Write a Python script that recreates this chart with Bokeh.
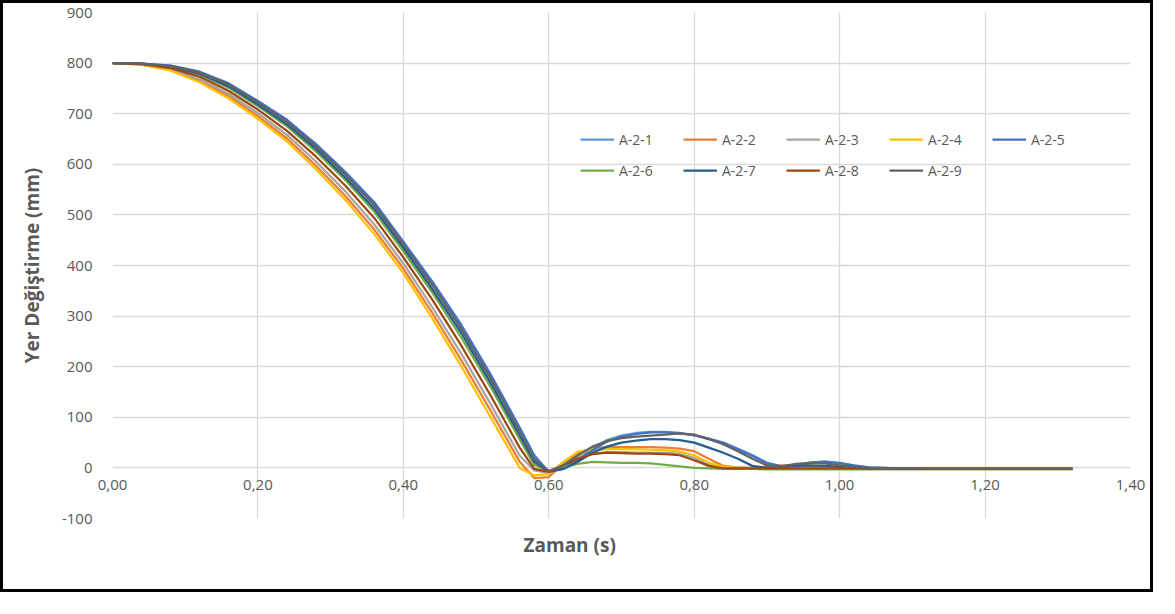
from bokeh.plotting import figure
from bokeh.models import Range1d, LinearAxis, FixedTicker, Legend, LegendItem, Title
from bokeh.embed import file_html
from bokeh.resources import INLINE

# time (s)
t = [0.00, 0.04, 0.08, 0.12, 0.16, 0.20, 0.24, 0.28, 0.32, 0.36, 0.40, 0.44, 0.48, 0.52, 0.56,
     0.58, 0.60, 0.62, 0.64, 0.66, 0.68, 0.70, 0.72, 0.74, 0.76, 0.78, 0.80, 0.82, 0.84, 0.86,
     0.88, 0.90, 0.92, 0.94, 0.96, 0.98, 1.00, 1.02, 1.04, 1.08, 1.12, 1.16, 1.20, 1.24, 1.28, 1.32]

a21 = [800, 799, 795, 782, 758, 723, 686, 638, 582, 522, 444, 364, 278, 181, 76,
       20, -8, 0, 18, 38, 55, 64, 69, 71, 71, 69, 64, 57, 48, 36,
       23, 9, 3, 6, 11, 13, 9, 4, 1, -1, -2, -2, -2, -2, -2, -2]
a22 = [800, 797, 787, 765, 735, 695, 651, 597, 538, 471, 394, 306, 212, 113, 12,
       -20, -18, 8, 28, 38, 41, 41, 41, 41, 40, 38, 33, 18, 4, 1,
       0, 2, 5, 5, 2, 0, -1, -1, -1, -1, -1, -1, -1, -1, -1, -1]
a23 = [800, 798, 788, 768, 739, 701, 658, 605, 547, 481, 404, 317, 225, 126, 24,
       -5, -10, 8, 22, 28, 31, 31, 30, 30, 30, 28, 20, 6, 1, 0,
       0, 0, 0, 0, 0, 0, 0, -1, -1, -1, -1, -1, -1, -1, -1, -1]
a24 = [800, 797, 785, 762, 730, 690, 645, 590, 530, 462, 385, 295, 200, 100, 0,
       -15, -12, 12, 32, 36, 37, 37, 37, 36, 35, 32, 25, 10, 2, 0,
       -1, -1, -1, -1, -1, -1, -1, -1, -1, -1, -1, -1, -1, -1, -1, -1]
a25 = [800, 799, 795, 783, 760, 725, 688, 640, 585, 525, 447, 368, 282, 185, 80,
       25, -8, -2, 15, 35, 52, 62, 67, 70, 70, 68, 65, 58, 50, 38,
       25, 10, 3, 5, 10, 12, 10, 5, 1, -1, -2, -2, -2, -2, -2, -2]
a26 = [800, 798, 792, 777, 751, 715, 675, 625, 569, 506, 428, 346, 257, 160, 56,
       6, -6, 2, 8, 12, 11, 10, 10, 9, 6, 3, 0, -1, -2, -2,
       -2, -3, -3, -3, -3, -3, -3, -3, -3, -3, -3, -3, -3, -3, -3, -3]
a27 = [800, 799, 793, 779, 754, 718, 679, 630, 574, 512, 435, 353, 266, 168, 64,
       12, -7, -2, 12, 30, 42, 50, 54, 57, 57, 55, 50, 40, 30, 18,
       4, 0, 2, 4, 5, 4, 2, 0, -1, -1, -2, -2, -2, -2, -2, -2]
a28 = [800, 798, 790, 773, 745, 708, 666, 615, 558, 494, 416, 332, 241, 143, 40,
       -2, -8, 5, 18, 27, 30, 29, 28, 28, 27, 25, 15, 4, -1, -1,
       -1, -1, -1, -1, -1, -1, -1, -1, -1, -1, -1, -1, -1, -1, -1, -1]
a29 = [800, 799, 794, 781, 757, 722, 684, 635, 580, 519, 441, 361, 274, 177, 72,
       16, -6, 5, 25, 42, 53, 59, 62, 64, 66, 68, 66, 57, 47, 33,
       18, 5, 3, 8, 10, 9, 5, 2, 0, -1, -2, -2, -2, -2, -2, -2]

names = ["A-2-1", "A-2-2", "A-2-3", "A-2-4", "A-2-5", "A-2-6", "A-2-7", "A-2-8", "A-2-9"]
values = [a21, a22, a23, a24, a25, a26, a27, a28, a29]
colors = ["#5B9BD5", "#ED7D31", "#A5A5A5", "#FFC000", "#4472C4",
          "#70AD47", "#255E91", "#9E480E", "#636363"]

x_ticks = [0.0, 0.2, 0.4, 0.6, 0.8, 1.0, 1.2, 1.4]
x_labels = ["0,00", "0,20", "0,40", "0,60", "0,80", "1,00", "1,20", "1,40"]
y_ticks = [-100, 0, 100, 200, 300, 400, 500, 600, 700, 800, 900]
y_labels = ["-100", "0", "100", "200", "300", "400", "500", "600", "700", "800", "900"]

FONT = "Open Sans"
TXT = "#595959"
GRID = "#D9D9D9"

p = figure(width=1153, height=592, output_backend="svg", toolbar_location=None,
           x_range=Range1d(0, 1.4), y_range=Range1d(-100, 900),
           x_axis_location=None,
           min_border_left=109, min_border_right=26, min_border_top=9, min_border_bottom=77)
p.styles = {"border": "3px solid black"}
p.outline_line_color = None
p.background_fill_color = "white"
p.border_fill_color = "white"

# y axis
yax = p.yaxis[0]
yax.ticker = FixedTicker(ticks=y_ticks)
yax.major_label_overrides = {v: s for v, s in zip(y_ticks, y_labels)}
yax.axis_line_color = None
yax.major_tick_line_color = None
yax.minor_tick_line_color = None
yax.major_label_text_font = FONT
yax.major_label_text_font_size = "15px"
yax.major_label_text_color = TXT
yax.major_label_standoff = 14
yax.axis_label = "Yer Değiştirme (mm)"
yax.axis_label_text_font = FONT
yax.axis_label_text_font_style = "bold"
yax.axis_label_text_font_size = "19px"
yax.axis_label_text_color = TXT
yax.axis_label_standoff = 14

# x axis: its labels sit just under the zero line (the axis crosses at y = 0)
xax = LinearAxis(ticker=FixedTicker(ticks=x_ticks),
                 major_label_overrides={v: s for v, s in zip(x_ticks, x_labels)})
xax.axis_line_color = None
xax.major_tick_line_color = None
xax.minor_tick_line_color = None
xax.major_label_text_font = FONT
xax.major_label_text_font_size = "15px"
xax.major_label_text_color = TXT
xax.major_label_standoff = -45
p.add_layout(xax, "below")

p.add_layout(Title(text="Zaman (s)", align="left", offset=411, standoff=23,
                   text_font=FONT, text_font_style="bold", text_font_size="19px",
                   text_color=TXT), "below")

p.xgrid.ticker = FixedTicker(ticks=x_ticks)
p.ygrid.ticker = FixedTicker(ticks=y_ticks)
p.xgrid.grid_line_color = GRID
p.ygrid.grid_line_color = GRID
p.xgrid.grid_line_width = 1.3
p.ygrid.grid_line_width = 1.3

items = []
for name, v, c in zip(names, values, colors):
    r = p.line(t, v, line_color=c, line_width=2.25)
    items.append(LegendItem(label=name, renderers=[r]))

legend = Legend(items=items, location=(468, 338), orientation="horizontal", ncols=5,
                glyph_width=34, glyph_height=20, label_height=20, label_width=53,
                label_standoff=5, spacing=11, padding=0, margin=0,
                border_line_color=None, background_fill_alpha=0,
                label_text_font=FONT, label_text_font_size="14px", label_text_color=TXT)
p.add_layout(legend, "center")

open("out.html", "w").write(file_html(p, INLINE))
